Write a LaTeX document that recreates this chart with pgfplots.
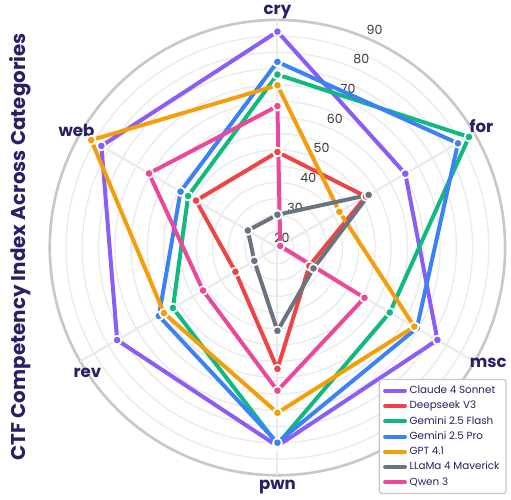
\documentclass[border=0pt]{standalone}
\usepackage{pgfplots}
\usepackage{pgfplotstable}
\pgfplotsset{compat=1.18}
\usepackage{fontspec}
\setmainfont{Poppins}
\definecolor{cclaude}{HTML}{8B5CF6}
\definecolor{cdeep}{HTML}{EF4444}
\definecolor{cflash}{HTML}{10B981}
\definecolor{cpro}{HTML}{3B82F6}
\definecolor{cgpt}{HTML}{F59E0B}
\definecolor{cllama}{HTML}{6B7280}
\definecolor{cqwen}{HTML}{EC4899}
\definecolor{ctext}{HTML}{2A1F66}
\definecolor{cgrid}{HTML}{EAEAEA}
\definecolor{couter}{HTML}{C8C8C8}

\pgfplotstableread{
ang claude deep flash pro gpt llama qwen
90   86.4 49.4 73.2 77.1 69.9 30.1 63.5
30   65.4 51.4 88.0 84.1 42.0 52.4 21.0
-30  76.8 31.3 59.9 69.5 68.6 32.8 50.9
-90  81.0 57.3 80.5 80.0 70.8 45.6 64.0
-150 76.9 34.9 57.1 62.1 60.3 28.2 46.4
150  82.5 48.9 51.7 54.4 86.1 30.5 65.6
450  86.4 49.4 73.2 77.1 69.9 30.1 63.5
}\data

\begin{document}
\begin{tikzpicture}
\begin{axis}[
  x=2.4535pt, y=2.4535pt,
  xmin=-85.3, xmax=70.93, ymin=-77.35, ymax=76.12,
  hide axis, clip=false,
  legend style={at={(rel axis cs:0.997,0.01)}, anchor=south east,
    fill=white, fill opacity=0.92, text opacity=1, draw=couter, line width=1pt,
    rounded corners=2pt, font=\fontsize{7.8}{9}\selectfont\color{ctext},
    row sep=0.2pt, inner sep=2.8pt},
  legend cell align=left,
  legend image code/.code={\draw[line width=3pt, line cap=round] (0pt,0pt) -- (15pt,0pt);},
  every axis plot/.append style={line width=3pt, line join=round, mark=*, mark size=3.3pt},
]
\draw[draw=none] (axis cs:-85.3,-77.35) rectangle (axis cs:70.93,76.12);
% grid circles
\pgfplotsinvokeforeach{5,10,...,65}{\draw[cgrid, line width=1pt] (axis cs:0,0) circle[radius=#1];}
\draw[couter, line width=2pt] (axis cs:0,0) circle[radius=70];
% spokes
\pgfplotsinvokeforeach{90,30,-30,-90,-150,150}{\draw[cgrid, line width=1.6pt] (axis cs:0,0) -- (axis cs:{70*cos(#1)},{70*sin(#1)});}
% radial labels
\pgfplotsinvokeforeach{20,30,...,90}{\node[text=black!78, font=\fontsize{9.5}{10}\selectfont] at (axis cs:{(#1-20+3.4)*cos(66)},{(#1-20+3.4)*sin(66)}) {#1};}
% category labels
\node[text=ctext, font=\fontsize{12.5}{14}\selectfont\bfseries] at (axis cs:0,72.5) {cry};
\node[text=ctext, font=\fontsize{12.5}{14}\selectfont\bfseries] at (axis cs:62.7,37.3) {for};
\node[text=ctext, font=\fontsize{12.5}{14}\selectfont\bfseries] at (axis cs:64.8,-35.5) {msc};
\node[text=ctext, font=\fontsize{12.5}{14}\selectfont\bfseries] at (axis cs:0,-73.7) {pwn};
\node[text=ctext, font=\fontsize{12.5}{14}\selectfont\bfseries] at (axis cs:-58.4,-38.5) {rev};
\node[text=ctext, font=\fontsize{12.5}{14}\selectfont\bfseries] at (axis cs:-61.8,36.1) {web};
\node[rotate=90, text=ctext, font=\fontsize{15}{17}\selectfont\bfseries] at (axis cs:-79.2,0.3) {CTF Competency Index Across Categories};

\addplot[cclaude, mark options={fill=cclaude, draw=white, line width=1.3pt}] table[x expr={(\thisrow{claude}-20)*cos(\thisrow{ang})}, y expr={(\thisrow{claude}-20)*sin(\thisrow{ang})}] {\data};
\addlegendentry{Claude 4 Sonnet}
\addplot[cdeep, mark options={fill=cdeep, draw=white, line width=1.3pt}] table[x expr={(\thisrow{deep}-20)*cos(\thisrow{ang})}, y expr={(\thisrow{deep}-20)*sin(\thisrow{ang})}] {\data};
\addlegendentry{Deepseek V3}
\addplot[cflash, mark options={fill=cflash, draw=white, line width=1.3pt}] table[x expr={(\thisrow{flash}-20)*cos(\thisrow{ang})}, y expr={(\thisrow{flash}-20)*sin(\thisrow{ang})}] {\data};
\addlegendentry{Gemini 2.5 Flash}
\addplot[cpro, mark options={fill=cpro, draw=white, line width=1.3pt}] table[x expr={(\thisrow{pro}-20)*cos(\thisrow{ang})}, y expr={(\thisrow{pro}-20)*sin(\thisrow{ang})}] {\data};
\addlegendentry{Gemini 2.5 Pro}
\addplot[cgpt, mark options={fill=cgpt, draw=white, line width=1.3pt}] table[x expr={(\thisrow{gpt}-20)*cos(\thisrow{ang})}, y expr={(\thisrow{gpt}-20)*sin(\thisrow{ang})}] {\data};
\addlegendentry{GPT 4.1}
\addplot[cllama, mark options={fill=cllama, draw=white, line width=1.3pt}] table[x expr={(\thisrow{llama}-20)*cos(\thisrow{ang})}, y expr={(\thisrow{llama}-20)*sin(\thisrow{ang})}] {\data};
\addlegendentry{LLaMa 4 Maverick}
\addplot[cqwen, mark options={fill=cqwen, draw=white, line width=1.3pt}] table[x expr={(\thisrow{qwen}-20)*cos(\thisrow{ang})}, y expr={(\thisrow{qwen}-20)*sin(\thisrow{ang})}] {\data};
\addlegendentry{Qwen 3}
\end{axis}
\end{tikzpicture}
\end{document}
